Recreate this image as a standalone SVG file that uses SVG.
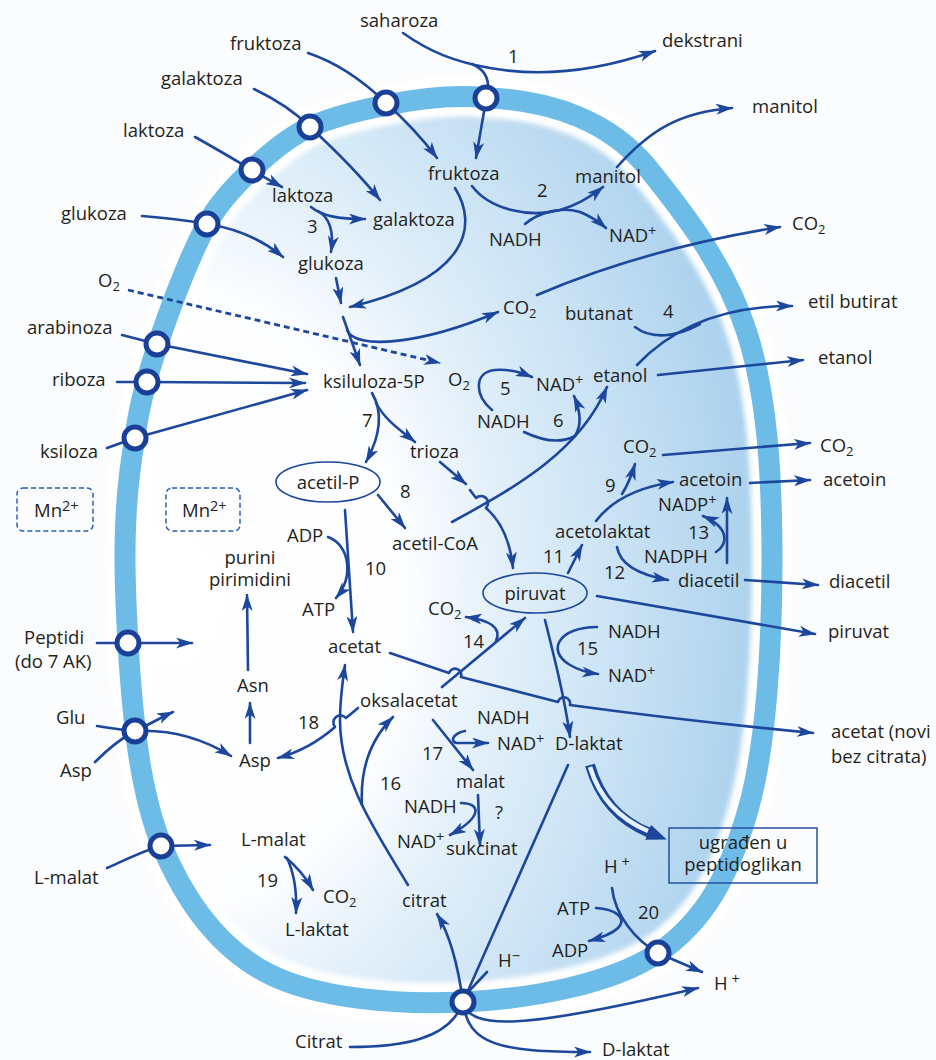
<svg xmlns="http://www.w3.org/2000/svg" width="936" height="1060" viewBox="0 0 936 1060">
<defs>
<style>
.t{font-family:"Open Sans","Liberation Sans",sans-serif;font-size:18.5px;fill:#231f20}
.s{font-size:13px}
.p{font-size:14.5px}
.m{text-anchor:middle}
.c{fill:none;stroke:#1c479c;stroke-width:2.6;stroke-linecap:round;stroke-linejoin:round}
.a{marker-end:url(#ah)}
.d{stroke-dasharray:6 4;stroke-linecap:butt;stroke-width:2.8}
.tr{fill:#fff;stroke:#1a3f96;stroke-width:5}
.box{fill:none;stroke:#2a5fb0;stroke-width:1.5;stroke-dasharray:5 3}
.ov{fill:none;stroke:#1c479c;stroke-width:1.6}
</style>
<marker id="ah" viewBox="0 0 17 11" refX="16" refY="5.5" markerWidth="17" markerHeight="11" markerUnits="userSpaceOnUse" orient="auto">
<path d="M0,0 L17,5.5 L0,11 L4.5,5.5 Z" fill="#1c479c"/>
</marker>
<marker id="big" viewBox="0 0 20 16" refX="2" refY="8" markerWidth="20" markerHeight="16" markerUnits="userSpaceOnUse" orient="auto">
<path d="M0,0 L20,8 L0,16 Z" fill="#1c479c"/>
</marker>
<radialGradient id="cyto" gradientUnits="userSpaceOnUse" cx="170" cy="600" r="600" gradientTransform="translate(170 600) scale(1 1.3) translate(-170 -600)">
<stop offset="0" stop-color="#ffffff"/>
<stop offset="0.4" stop-color="#fcfdff"/>
<stop offset="0.55" stop-color="#e3f0fa"/>
<stop offset="0.7" stop-color="#d0e6f6"/>
<stop offset="0.85" stop-color="#bddbf2"/>
<stop offset="0.95" stop-color="#b0d4ee"/>
<stop offset="1" stop-color="#a9d0ed"/>
</radialGradient>
<filter id="soft" x="-10%" y="-10%" width="120%" height="120%"><feGaussianBlur stdDeviation="2.5"/></filter>
<path id="memb" d="M 486 98 C 555 100, 612 124, 647 167 C 685 214, 726 267, 747 333 C 768 398, 772 480, 772 560 C 772 640, 767 744, 748 810 C 729 876, 705 921, 658 953 C 610 985, 528 999, 463 1002 C 398 1005, 317 999, 267 973 C 217 947, 185 901, 162 846 C 139 791, 132 711, 128 643 C 124 575, 122 508, 135 438 C 142 372, 188 259, 207 224 C 226 189, 279 141, 310 127 C 341 113, 430 91, 486 98 Z"/>
</defs>

<rect width="936" height="1060" fill="#fbfcfe"/>

<!-- cell: cytoplasm, inner light rim, membrane -->
<g id="cell">
<use href="#memb" fill="url(#cyto)"/>
<use href="#memb" fill="none" stroke="#ffffff" stroke-width="40" filter="url(#soft)"/>
<use href="#memb" fill="none" stroke="#6cbce7" stroke-width="21"/>
</g>

<!-- reaction arrows -->
<g id="connectors">
<path class="c a" d="M 403 33 C 430 52, 455 62, 490 68 C 545 78, 600 70, 655 51"/>
<path class="c" d="M 472 64 C 484 69, 489 78, 488 90"/>
<path class="c a" d="M 486 100 L 476 158"/>
<path class="c" d="M 308 53 C 335 62, 362 80, 385 102"/>
<path class="c a" d="M 385 102 C 405 120, 422 138, 437 158"/>
<path class="c" d="M 254 89 C 275 99, 295 112, 310 127"/>
<path class="c a" d="M 310 127 C 335 150, 360 175, 380 200"/>
<path class="c" d="M 195 137 C 215 148, 235 160, 252 170"/>
<path class="c a" d="M 252 170 C 265 178, 273 182, 282 187"/>
<path class="c" d="M 142 216 C 170 218, 190 221, 207 224"/>
<path class="c a" d="M 207 224 C 240 229, 265 242, 283 257"/>
<path class="c d a" d="M 128 290 L 440 363"/>
<path class="c" d="M 122 335 L 157 344"/>
<path class="c a" d="M 157 344 L 307 374"/>
<path class="c" d="M 117 382 L 147 382"/>
<path class="c a" d="M 147 382 L 305 383"/>
<path class="c" d="M 107 448 L 135 438"/>
<path class="c a" d="M 135 438 L 307 390"/>
<path class="c a" d="M 311 207 C 322 216, 338 219, 365 219"/>
<path class="c a" d="M 318 211 C 330 218, 334 232, 331 252"/>
<path class="c a" d="M 336 278 L 341 303"/>
<path class="c a" d="M 455 188 C 478 225, 470 278, 350 307"/>
<path class="c a" d="M 343 317 L 360 365"/>
<path class="c a" d="M 347 330 C 355 350, 420 345, 498 312"/>
<path class="c a" d="M 537 295 C 600 268, 680 243, 780 227"/>
<path class="c a" d="M 472 186 C 490 210, 530 218, 560 210 C 580 204, 592 196, 603 187"/>
<path class="c a" d="M 525 224 C 538 213, 560 206, 580 212 C 590 216, 598 221, 606 228"/>
<path class="c a" d="M 617 167 C 650 130, 680 112, 732 108"/>
<path class="c" d="M 635 327 C 652 340, 676 337, 700 324"/>
<path class="c a" d="M 637 365 C 670 330, 720 306, 792 306"/>
<path class="c a" d="M 658 375 L 803 360"/>
<path class="c a" d="M 492 410 C 474 395, 474 372, 495 370 C 510 369, 520 372, 532 377"/>
<path class="c a" d="M 524 432 C 545 442, 562 443, 575 436 C 582 425, 580 410, 574 396"/>
<path class="c a" d="M 452 522 C 520 485, 580 450, 607 387"/>
<path class="c a" d="M 372 393 C 385 415, 378 440, 366 462"/>
<path class="c a" d="M 376 403 C 385 420, 400 430, 415 442"/>
<path class="c a" d="M 440 462 L 466 484"/>
<path class="c a" d="M 470 490 L 476 498 A 7 7 0 0 1 486 508 C 500 520, 510 540, 513 568"/>
<path class="c a" d="M 378 495 L 405 528"/>
<path class="c a" d="M 345 510 L 353 632"/>
<path class="c a" d="M 328 537 C 350 545, 354 577, 336 598"/>
<path class="c a" d="M 390 653 L 449 673 A 6 6 0 0 1 461 677 L 558 702 A 6 6 0 0 1 570 705 C 650 716, 740 726, 813 733"/>
<path class="c a" d="M 442 687 L 525 618"/>
<path class="c a" d="M 496 641 C 502 628, 490 620, 466 617"/>
<path class="c a" d="M 545 620 C 555 660, 565 700, 570 737"/>
<path class="c a" d="M 597 627 C 560 627, 545 650, 570 665 C 580 671, 590 673, 598 674"/>
<path class="c a" d="M 568 573 L 582 545"/>
<path class="c a" d="M 596 521 C 612 500, 640 487, 673 482"/>
<path class="c a" d="M 622 494 C 628 485, 631 477, 635 464"/>
<path class="c a" d="M 617 547 C 620 565, 640 575, 668 580"/>
<path class="c a" d="M 727 563 L 727 498"/>
<path class="c a" d="M 716 552 C 728 544, 730 528, 703 516"/>
<path class="c a" d="M 750 483 L 810 480"/>
<path class="c a" d="M 745 580 L 818 585"/>
<path class="c a" d="M 663 455 L 810 443"/>
<path class="c a" d="M 597 596 L 815 634"/>
<path class="c a" d="M 433 720 L 473 770"/>
<path class="c a" d="M 465 731 C 455 733, 449 740, 456 743 L 488 743"/>
<path class="c a" d="M 478 795 L 480 845"/>
<path class="c a" d="M 461 803 C 480 803, 484 816, 450 835"/>
<path class="c a" d="M 408 885 C 375 830, 340 780, 340 720 C 340 700, 342 685, 345 665"/>
<path class="c a" d="M 362 805 C 360 770, 370 740, 393 717"/>
<path class="c a" d="M 358 708 L 346 718 A 6 6 0 0 0 335 727 C 318 742, 300 752, 278 758"/>
<path class="c a" d="M 250 743 L 250 703"/>
<path class="c a" d="M 248 670 L 247 595"/>
<path class="c" d="M 97 643 L 128 643"/>
<path class="c a" d="M 128 643 L 192 643"/>
<path class="c" d="M 97 726 C 110 728, 122 730, 135 731"/>
<path class="c a" d="M 135 731 C 150 724, 162 717, 173 712"/>
<path class="c" d="M 95 762 C 105 752, 118 740, 135 731"/>
<path class="c a" d="M 135 731 C 175 729, 205 740, 231 756"/>
<path class="c" d="M 107 868 C 125 860, 145 850, 161 846"/>
<path class="c a" d="M 161 846 L 210 845"/>
<path class="c a" d="M 285 857 C 295 865, 305 876, 313 890"/>
<path class="c a" d="M 287 858 C 295 875, 297 892, 296 913"/>
<path class="c" d="M 350 1047 C 400 1047, 450 1040, 463 1002"/>
<path class="c a" d="M 463 1002 C 458 965, 450 935, 437 914"/>
<path class="c" d="M 568 765 L 463 1002"/>
<path class="c" d="M 487 972 L 470 990"/>
<path class="c a" d="M 463 1002 C 470 1030, 520 1030, 698 988"/>
<path class="c a" d="M 463 1002 C 468 1045, 500 1052, 590 1052"/>
<path class="c" d="M 612 888 C 615 915, 635 940, 658 953"/>
<path class="c a" d="M 596 908 C 615 909, 628 918, 618 928 C 612 934, 600 938, 589 941"/>
<path class="c a" d="M 658 953 L 702 972"/>
<path d="M 590 765 C 600 800, 622 822, 650 833" fill="none" stroke="#1c479c" stroke-width="10" marker-end="url(#big)"/>
<path d="M 590 767 C 600 800, 622 820, 648 831" fill="none" stroke="#e4f0fa" stroke-width="4.5"/>
</g>

<!-- membrane transporters -->
<g id="transporters">
<circle id="tr-saharoza" class="tr" cx="486" cy="98" r="11"/>
<circle id="tr-fruktoza" class="tr" cx="386" cy="103" r="11"/>
<circle id="tr-galaktoza" class="tr" cx="310" cy="127" r="11"/>
<circle id="tr-laktoza" class="tr" cx="252" cy="170" r="11"/>
<circle id="tr-glukoza" class="tr" cx="207" cy="224" r="11"/>
<circle id="tr-arabinoza" class="tr" cx="157" cy="344" r="11"/>
<circle id="tr-riboza" class="tr" cx="147" cy="382" r="11"/>
<circle id="tr-ksiloza" class="tr" cx="135" cy="438" r="11"/>
<circle id="tr-peptidi" class="tr" cx="128" cy="643" r="11"/>
<circle id="tr-glu" class="tr" cx="135" cy="731" r="11"/>
<circle id="tr-lmalat" class="tr" cx="161" cy="846" r="11"/>
<circle id="tr-citrat" class="tr" cx="463" cy="1002" r="11"/>
<circle id="tr-h" class="tr" cx="658" cy="953" r="11"/>
</g>

<!-- outside labels -->
<g id="n-saharoza"><text class="t" x="360" y="27">saharoza</text></g>
<g id="n-fruktoza-out"><text class="t" x="230" y="50">fruktoza</text></g>
<g id="n-galaktoza-out"><text class="t" x="161" y="85">galaktoza</text></g>
<g id="n-laktoza-out"><text class="t" x="123" y="137">laktoza</text></g>
<g id="n-glukoza-out"><text class="t" x="61" y="220">glukoza</text></g>
<g id="n-o2-out"><text class="t" x="98" y="287">O<tspan class="s" dy="4">2</tspan></text></g>
<g id="n-arabinoza"><text class="t" x="27" y="334">arabinoza</text></g>
<g id="n-riboza"><text class="t" x="52" y="386">riboza</text></g>
<g id="n-ksiloza"><text class="t" x="40" y="458">ksiloza</text></g>
<g id="n-mn-out"><rect class="box" x="17" y="488" width="76" height="43" rx="6"/><text class="t" x="34" y="517">Mn<tspan class="p" dy="-6">2+</tspan></text></g>
<g id="n-peptidi"><text class="t" x="24" y="644">Peptidi</text><text class="t" x="15" y="668">(do 7 AK)</text></g>
<g id="n-glu"><text class="t" x="56" y="724">Glu</text></g>
<g id="n-asp-out"><text class="t" x="60" y="777">Asp</text></g>
<g id="n-lmalat-out"><text class="t" x="34" y="884">L-malat</text></g>
<g id="n-citrat-out"><text class="t" x="295" y="1048">Citrat</text></g>
<g id="n-dekstrani"><text class="t" x="662" y="47">dekstrani</text></g>
<g id="n-r1"><text class="t" x="508" y="63">1</text></g>
<g id="n-manitol-out"><text class="t" x="752" y="113">manitol</text></g>
<g id="n-co2-out1"><text class="t" x="792" y="230">CO<tspan class="s" dy="4">2</tspan></text></g>
<g id="n-etilbutirat"><text class="t" x="808" y="308">etil butirat</text></g>
<g id="n-etanol-out"><text class="t" x="818" y="364">etanol</text></g>
<g id="n-co2-out2"><text class="t" x="820" y="452">CO<tspan class="s" dy="4">2</tspan></text></g>
<g id="n-acetoin-out"><text class="t" x="823" y="486">acetoin</text></g>
<g id="n-diacetil-out"><text class="t" x="829" y="588">diacetil</text></g>
<g id="n-piruvat-out"><text class="t" x="828" y="638">piruvat</text></g>
<g id="n-acetat-out"><text class="t" x="831" y="738">acetat (novi</text><text class="t" x="831" y="763">bez citrata)</text></g>
<g id="n-h-out"><text class="t" x="714" y="990">H<tspan class="p" dy="-6"> +</tspan></text></g>
<g id="n-dlaktat-out"><text class="t" x="602" y="1056">D-laktat</text></g>

<!-- inside labels -->
<g id="n-fruktoza-in"><text class="t" x="428" y="180">fruktoza</text></g>
<g id="n-laktoza-in"><text class="t" x="272" y="202">laktoza</text></g>
<g id="n-r3"><text class="t" x="307" y="233">3</text></g>
<g id="n-galaktoza-in"><text class="t" x="373" y="226">galaktoza</text></g>
<g id="n-glukoza-in"><text class="t" x="298" y="270">glukoza</text></g>
<g id="n-manitol-in"><text class="t" x="575" y="183">manitol</text></g>
<g id="n-r2"><text class="t" x="537" y="197">2</text></g>
<g id="n-nadh2"><text class="t" x="489" y="246">NADH</text></g>
<g id="n-nad2"><text class="t" x="609" y="242">NAD<tspan class="p" dy="-6">+</tspan></text></g>
<g id="n-co2-in1"><text class="t" x="503" y="314">CO<tspan class="s" dy="4">2</tspan></text></g>
<g id="n-butanat"><text class="t" x="565" y="320">butanat</text></g>
<g id="n-r4"><text class="t" x="663" y="318">4</text></g>
<g id="n-ksiluloza"><text class="t" x="323" y="388">ksiluloza-5P</text></g>
<g id="n-o2-in"><text class="t" x="448" y="386">O<tspan class="s" dy="4">2</tspan></text></g>
<g id="n-r5"><text class="t" x="500" y="395">5</text></g>
<g id="n-nad5"><text class="t" x="536" y="391">NAD<tspan class="p" dy="-6">+</tspan></text></g>
<g id="n-etanol-in"><text class="t" x="593" y="382">etanol</text></g>
<g id="n-nadh6"><text class="t" x="477" y="428">NADH</text></g>
<g id="n-r6"><text class="t" x="553" y="427">6</text></g>
<g id="n-r7"><text class="t" x="362" y="427">7</text></g>
<g id="n-trioza"><text class="t" x="410" y="458">trioza</text></g>
<g id="n-co2-in9"><text class="t" x="623" y="453">CO<tspan class="s" dy="4">2</tspan></text></g>
<g id="n-acetilp"><ellipse class="ov" cx="328" cy="482" rx="52" ry="20"/><text class="t m" x="328" y="489">acetil-P</text></g>
<g id="n-mn-in"><rect class="box" x="166" y="488" width="74" height="43" rx="6"/><text class="t" x="182" y="517">Mn<tspan class="p" dy="-6">2+</tspan></text></g>
<g id="n-r8"><text class="t" x="400" y="498">8</text></g>
<g id="n-acetoin-in"><text class="t" x="679" y="486">acetoin</text></g>
<g id="n-r9"><text class="t" x="605" y="492">9</text></g>
<g id="n-nadp"><text class="t" x="658" y="511">NADP<tspan class="p" dy="-6">+</tspan></text></g>
<g id="n-acetolaktat"><text class="t" x="555" y="538">acetolaktat</text></g>
<g id="n-r13"><text class="t" x="688" y="539">13</text></g>
<g id="n-adp10"><text class="t" x="287" y="542">ADP</text></g>
<g id="n-acetilcoa"><text class="t" x="392" y="550">acetil-CoA</text></g>
<g id="n-nadph"><text class="t" x="644" y="563">NADPH</text></g>
<g id="n-r11"><text class="t" x="543" y="563">11</text></g>
<g id="n-purini"><text class="t m" x="250" y="564">purini</text><text class="t m" x="250" y="586">pirimidini</text></g>
<g id="n-r10"><text class="t" x="365" y="575">10</text></g>
<g id="n-r12"><text class="t" x="604" y="579">12</text></g>
<g id="n-diacetil-in"><text class="t" x="678" y="587">diacetil</text></g>
<g id="n-piruvat-in"><ellipse class="ov" cx="535" cy="593" rx="52" ry="20"/><text class="t m" x="535" y="600">piruvat</text></g>
<g id="n-atp10"><text class="t" x="302" y="616">ATP</text></g>
<g id="n-co2-in14"><text class="t" x="428" y="615">CO<tspan class="s" dy="4">2</tspan></text></g>
<g id="n-nadh15"><text class="t" x="608" y="638">NADH</text></g>
<g id="n-r14"><text class="t" x="463" y="648">14</text></g>
<g id="n-acetat-in"><text class="t" x="328" y="653">acetat</text></g>
<g id="n-r15"><text class="t" x="577" y="655">15</text></g>
<g id="n-nad15"><text class="t" x="608" y="682">NAD<tspan class="p" dy="-6">+</tspan></text></g>
<g id="n-asn"><text class="t" x="237" y="692">Asn</text></g>
<g id="n-oksalacetat"><text class="t" x="360" y="707">oksalacetat</text></g>
<g id="n-nadh17"><text class="t" x="477" y="724">NADH</text></g>
<g id="n-r18"><text class="t" x="298" y="729">18</text></g>
<g id="n-nad17"><text class="t" x="497" y="750">NAD<tspan class="p" dy="-6">+</tspan></text></g>
<g id="n-dlaktat-in"><text class="t" x="555" y="750">D-laktat</text></g>
<g id="n-r17"><text class="t" x="422" y="760">17</text></g>
<g id="n-asp-in"><text class="t" x="239" y="767">Asp</text></g>
<g id="n-malat"><text class="t" x="456" y="788">malat</text></g>
<g id="n-r16"><text class="t" x="380" y="790">16</text></g>
<g id="n-nadh-m"><text class="t" x="404" y="813">NADH</text></g>
<g id="n-q"><text class="t" x="495" y="819">?</text></g>
<g id="n-lmalat-in"><text class="t" x="241" y="846">L-malat</text></g>
<g id="n-nad-m"><text class="t" x="397" y="848">NAD<tspan class="p" dy="-6">+</tspan></text></g>
<g id="n-sukcinat"><text class="t" x="446" y="855">sukcinat</text></g>
<g id="n-peptidoglikan"><rect x="669" y="828" width="148" height="55" fill="none" stroke="#2450a0" stroke-width="1.5"/><text class="t m" x="743" y="849">ugrađen u</text><text class="t m" x="743" y="871">peptidoglikan</text></g>
<g id="n-h-in"><text class="t" x="604" y="873">H<tspan class="p" dy="-6"> +</tspan></text></g>
<g id="n-r19"><text class="t" x="257" y="887">19</text></g>
<g id="n-co2-in19"><text class="t" x="323" y="903">CO<tspan class="s" dy="4">2</tspan></text></g>
<g id="n-citrat-in"><text class="t" x="402" y="907">citrat</text></g>
<g id="n-atp20"><text class="t" x="557" y="915">ATP</text></g>
<g id="n-r20"><text class="t" x="638" y="919">20</text></g>
<g id="n-llaktat"><text class="t" x="285" y="936">L-laktat</text></g>
<g id="n-adp20"><text class="t" x="552" y="957">ADP</text></g>
<g id="n-hminus"><text class="t" x="498" y="967">H<tspan class="p" dy="-6">−</tspan></text></g>
</svg>
